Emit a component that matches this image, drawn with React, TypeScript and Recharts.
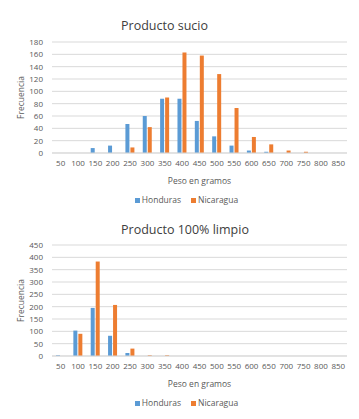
import { Bar, BarChart, CartesianGrid, XAxis, YAxis } from 'recharts';

// Frecuencia de peso (g) por país, producto sucio y producto 100% limpio.
const pesos = ['50', '100', '150', '200', '250', '300', '350', '400', '450', '500', '550', '600', '650', '700', '750', '800', '850'];

const suciosHonduras = [0, 0, 8, 12, 47, 60, 88, 88, 52, 27, 12, 4, 2, 0, 0, 0, 0];
const suciosNicaragua = [0, 0, 0, 0, 9, 42, 90, 163, 158, 128, 73, 26, 14, 4, 2, 0, 0];

const limpioHonduras = [3, 103, 195, 82, 12, 0, 0, 0, 0, 0, 0, 0, 0, 0, 0, 0, 0];
const limpioNicaragua = [0, 90, 383, 207, 30, 3, 3, 0, 0, 0, 0, 0, 0, 0, 0, 0, 0];

const ticksSucio = [0, 20, 40, 60, 80, 100, 120, 140, 160, 180];
const ticksLimpio = [0, 50, 100, 150, 200, 250, 300, 350, 400, 450];

const AZUL = '#5b9bd5';
const NARANJA = '#ed7d31';
const TEXTO = '#595959';
const GRID = '#d9d9d9';
const FONT = '"Open Sans", sans-serif';

function toRows(h: number[], n: number[]) {
  return pesos.map((p, i) => ({ peso: p, Honduras: h[i], Nicaragua: n[i] }));
}

function Histograma({
  titulo,
  data,
  ticks,
  top,
  tituloTop,
}: {
  titulo: string;
  data: { peso: string; Honduras: number; Nicaragua: number }[];
  ticks: number[];
  top: number;
  tituloTop: number;
}) {
  const alto = top + 111 + 57;
  return (
    <div style={{ position: 'relative', width: 359, height: alto }}>
      <div
        style={{
          position: 'absolute',
          left: 121,
          top: tituloTop,
          fontSize: 12.5,
          color: '#404040',
          whiteSpace: 'nowrap',
          lineHeight: '16px',
        }}
      >
        {titulo}
      </div>
      <BarChart
        width={359}
        height={alto}
        data={data}
        margin={{ top, right: 12, bottom: 25, left: 0 }}
        barSize={4}
        barGap={1}
      >
        <CartesianGrid vertical={false} stroke={GRID} />
        <XAxis
          dataKey="peso"
          interval={0}
          tickLine={false}
          tickSize={0}
          tickMargin={7}
          axisLine={{ stroke: GRID }}
          height={32}
          tick={{ fontSize: 8, fill: TEXTO, fontFamily: FONT }}
          label={{ value: 'Peso en gramos', position: 'insideBottom', offset: 1, fontSize: 8.5, fill: TEXTO, fontFamily: FONT }}
        />
        <YAxis
          width={52}
          domain={[0, ticks[ticks.length - 1]]}
          ticks={ticks}
          interval={0}
          tickLine={false}
          tickSize={0}
          tickMargin={9}
          axisLine={false}
          tick={{ fontSize: 8, fill: TEXTO, fontFamily: FONT }}
          label={{ value: 'Frecuencia', angle: -90, position: 'insideLeft', offset: 21, fontSize: 8.5, fill: TEXTO, fontFamily: FONT, style: { textAnchor: 'middle' } }}
        />
        <Bar dataKey="Honduras" fill={AZUL} isAnimationActive={false} />
        <Bar dataKey="Nicaragua" fill={NARANJA} isAnimationActive={false} />
      </BarChart>
      <div
        style={{
          position: 'absolute',
          left: 0,
          width: 359,
          top: top + 111 + 41,
          display: 'flex',
          justifyContent: 'center',
          gap: 10,
          fontSize: 8.5,
          color: TEXTO,
          lineHeight: '12px',
          paddingLeft: 14,
          boxSizing: 'border-box',
        }}
      >
        {[
          ['Honduras', AZUL],
          ['Nicaragua', NARANJA],
        ].map(([n, c]) => (
          <span key={n} style={{ display: 'flex', alignItems: 'center', gap: 2 }}>
            <span style={{ width: 5, height: 5, background: c, display: 'inline-block' }} />
            {n}
          </span>
        ))}
      </div>
    </div>
  );
}

export default function App() {
  return (
    <div
      style={{
        position: 'fixed',
        left: 0,
        top: 0,
        width: 359,
        height: 419,
        background: '#fff',
        fontFamily: FONT,
      }}
    >
      <Histograma
        titulo="Producto sucio"
        data={toRows(suciosHonduras, suciosNicaragua)}
        ticks={ticksSucio}
        top={42}
        tituloTop={18}
      />
      <div style={{ position: 'absolute', top: 210, left: 0 }}>
        <Histograma
          titulo="Producto 100% limpio"
          data={toRows(limpioHonduras, limpioNicaragua)}
          ticks={ticksLimpio}
          top={35}
          tituloTop={12}
        />
      </div>
    </div>
  );
}
